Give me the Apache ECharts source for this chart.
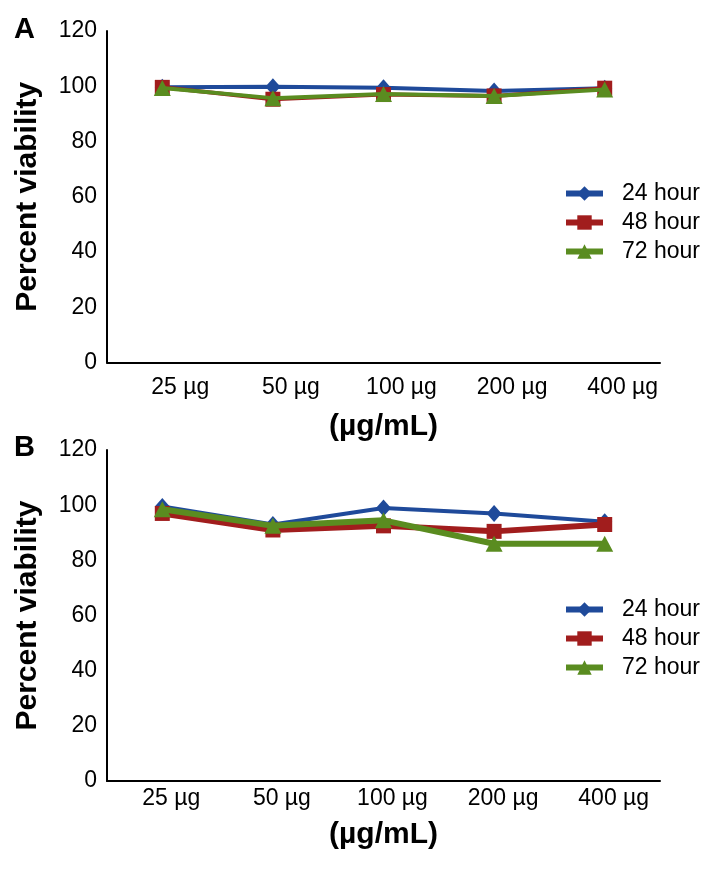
<!DOCTYPE html>
<html>
<head>
<meta charset="utf-8">
<script src="https://cdn.jsdelivr.net/npm/echarts@6/dist/echarts.min.js"></script>
<style>
html,body{margin:0;padding:0;background:#fff;}
#c{width:717px;height:871px;}
</style>
</head>
<body>
<div id="c"></div>
<script>
var categories = ['25 µg', '50 µg', '100 µg', '200 µg', '400 µg'];
var seriesNames = ['24 hour', '48 hour', '72 hour'];
var yTicks = [0, 20, 40, 60, 80, 100, 120];

var a24 = [99.6, 99.8, 99.5, 98.3, 99.3];
var a48 = [99.6, 95.3, 97.0, 96.5, 99.3];
var a72 = [99.4, 95.7, 97.2, 96.5, 98.8];

var b24 = [99.5, 93.0, 99.0, 97.0, 94.0];
var b48 = [97.0, 91.0, 92.5, 90.5, 93.0];
var b72 = [98.5, 92.5, 94.5, 86.0, 86.0];

var COLORS = ['#1F4A9A', '#A11D1D', '#5A8C20'];
var SYMBOLS = ['diamond', 'rect', 'triangle'];
var SYMSIZE = [[15, 17], 15, [17, 16]];
var FONT = '"Liberation Sans", Arial, sans-serif';

function mkSeries(name, idx, data, gi, lw) {
  return {
    name: name, type: 'line', xAxisIndex: gi, yAxisIndex: gi,
    data: data, symbol: SYMBOLS[idx], symbolSize: SYMSIZE[idx],
    showAllSymbol: true,
    lineStyle: {color: COLORS[idx], width: lw},
    itemStyle: {color: COLORS[idx]},
    z: 2 + idx,
    animation: false
  };
}

function mkX(gi, margin, pad) {
  return {
    type: 'category', gridIndex: gi, data: categories,
    axisLine: {show: true, lineStyle: {color: '#000', width: 2}},
    axisTick: {show: false},
    axisLabel: {color: '#000', fontSize: 23, fontFamily: FONT, margin: margin, padding: pad},
    name: '(µg/mL)', nameLocation: 'middle', nameGap: gi === 0 ? 49 : 39,
    nameTextStyle: {color: '#000', fontSize: 30, fontWeight: 'bold', fontFamily: FONT}
  };
}
function mkY(gi) {
  return {
    type: 'value', gridIndex: gi, min: yTicks[0], max: yTicks[yTicks.length - 1], interval: 20,
    axisLine: {show: true, lineStyle: {color: '#000', width: 2}},
    axisTick: {show: false},
    splitLine: {show: false},
    axisLabel: {color: '#000', fontSize: 23, fontFamily: FONT, margin: 10},
    name: 'Percent viability', nameLocation: 'middle', nameGap: 64,
    nameTextStyle: {color: '#000', fontSize: 30, fontWeight: 'bold', fontFamily: FONT}
  };
}
function mkLegend(top) {
  return {
    data: seriesNames, orient: 'vertical', left: 563, top: top, padding: 0,
    itemWidth: 37, itemHeight: 18, itemGap: 6,
    lineStyle: {width: 6},
    textStyle: {color: '#000', fontSize: 23, fontFamily: FONT, padding: [0, 0, 0, 14]},
    selectedMode: false
  };
}

var chart = echarts.init(document.getElementById('c'), null, {renderer: 'canvas'});
chart.setOption({
  backgroundColor: '#fff',
  animation: false,
  grid: [
    {left: 107, top: 31, width: 553, height: 331.5},
    {left: 107, top: 450, width: 553, height: 331}
  ],
  xAxis: [mkX(0, 14, [0, 0, 0, 36]), mkX(1, 6, [0, 0, 0, 18])],
  yAxis: [mkY(0), mkY(1)],
  legend: [mkLegend(182), mkLegend(598)],
  series: [
    mkSeries(seriesNames[0], 0, a24, 0, 4),
    mkSeries(seriesNames[1], 1, a48, 0, 4),
    mkSeries(seriesNames[2], 2, a72, 0, 4),
    mkSeries(seriesNames[0], 0, b24, 1, 4),
    mkSeries(seriesNames[1], 1, b48, 1, 6),
    mkSeries(seriesNames[2], 2, b72, 1, 6)
  ],
  graphic: [
    {type: 'text', left: 14, top: 15, style: {text: 'A', font: 'bold 29px ' + FONT, fill: '#000'}},
    {type: 'text', left: 14, top: 433, style: {text: 'B', font: 'bold 29px ' + FONT, fill: '#000'}}
  ]
});
</script>
</body>
</html>
